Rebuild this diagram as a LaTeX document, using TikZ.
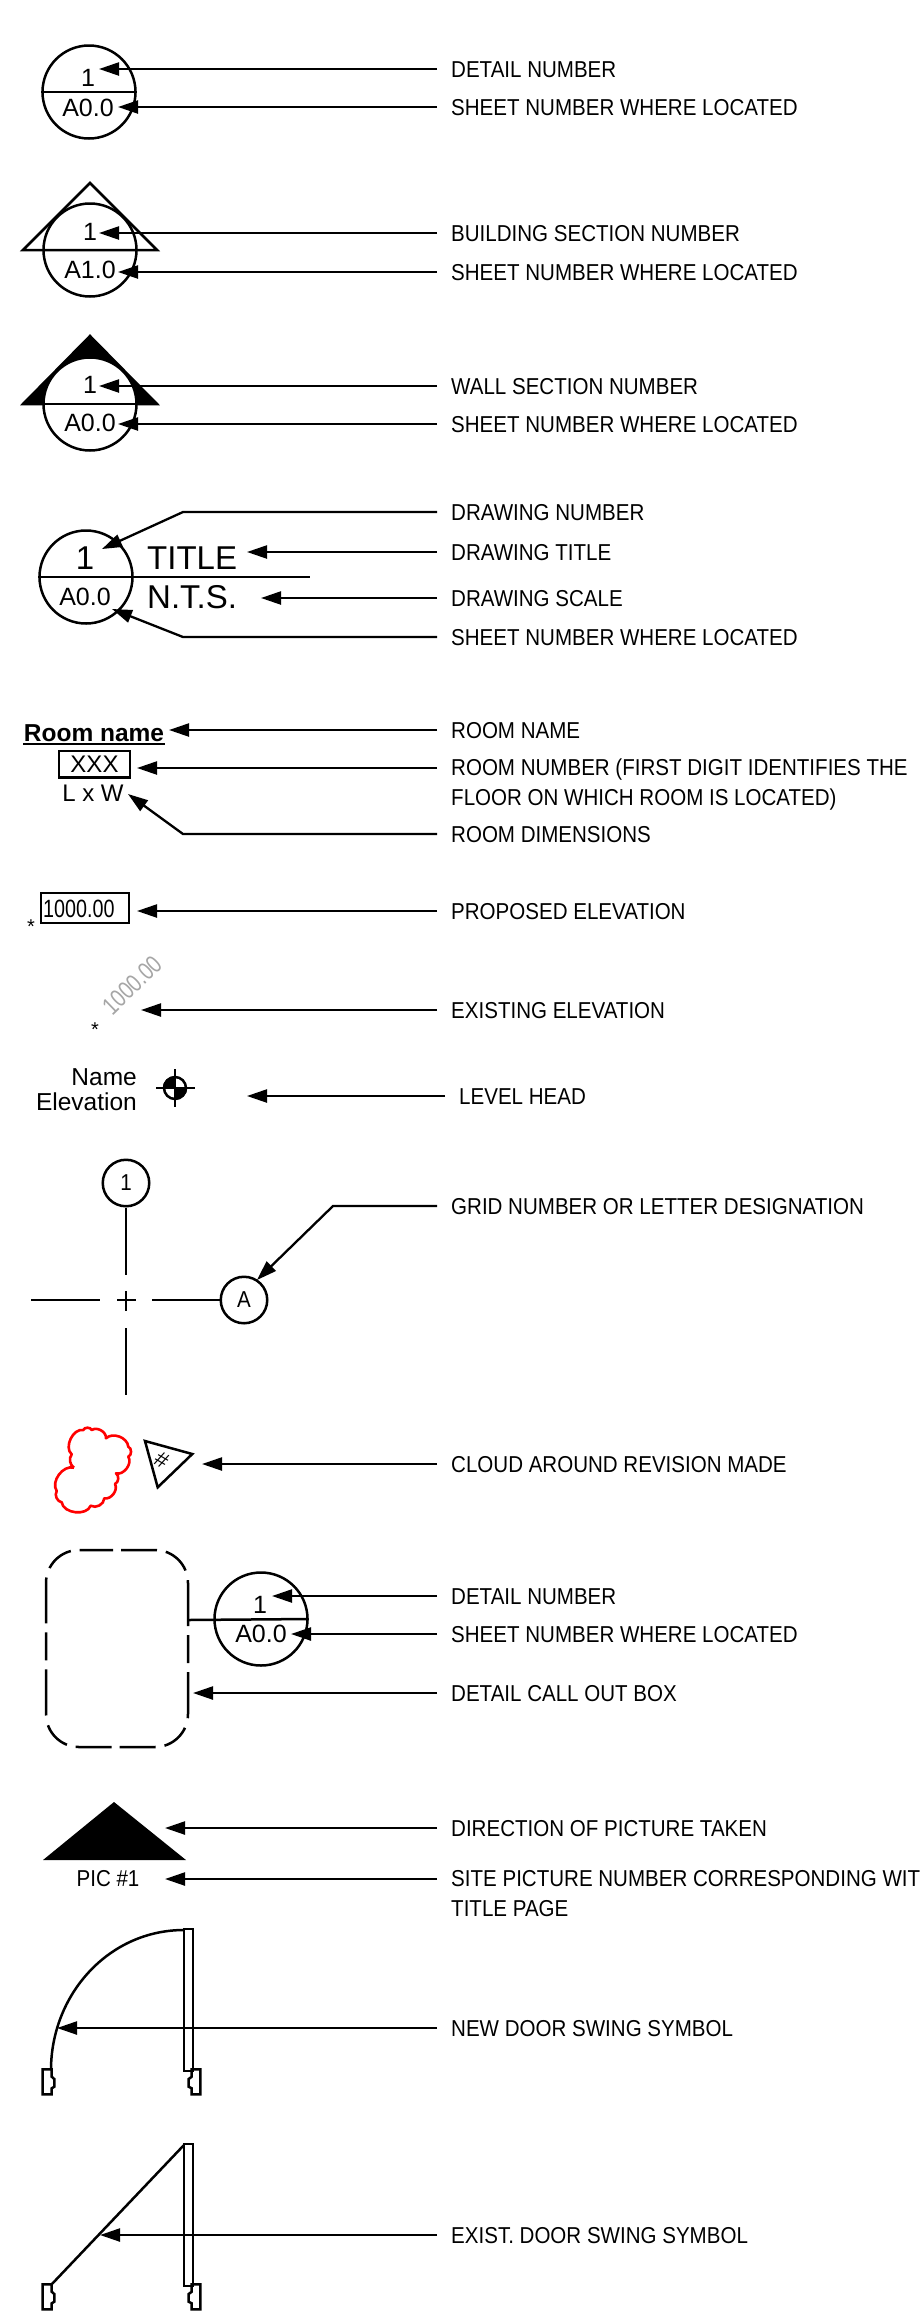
\documentclass[tikz,border=0pt]{standalone}
\usepackage{fontspec}
\setmainfont{Liberation Sans}
\newfontfamily\lblfont[FakeStretch=0.893]{Liberation Sans}
\newfontfamily\elevfont[FakeStretch=0.79]{Liberation Sans}
\usetikzlibrary{arrows.meta}
\tikzset{
  lbl_n/.style = {anchor=west, inner xsep=14pt, inner ysep=0pt, text height=16.5pt,
    text depth=0pt, font=\lblfont\fontsize{23}{30}\selectfont},
  lbltwo_n/.style = {anchor=north west, inner xsep=14pt, inner ysep=0pt, align=left,
    font=\lblfont\fontsize{23}{30}\selectfont},
  sym_t/.style = {inner sep=0pt, font=\fontsize{25}{25}\selectfont},
  big_t/.style = {inner sep=0pt, font=\fontsize{33}{33}\selectfont},
  narrow_t/.style = {inner sep=0pt, font=\lblfont\fontsize{23}{23}\selectfont},
  star_t/.style = {anchor=north, inner sep=0pt, font=\fontsize{20}{20}\selectfont},
  circ_n/.style = {circle, draw=black, line width=2.5pt, inner sep=0pt, minimum size=93pt},
  grid_n/.style = {circle, draw=black, line width=2.5pt, inner sep=0pt, minimum size=46.5pt,
    narrow_t},
  leader/.style = {->, line width=2.3pt},
  sym_l/.style = {line width=2.5pt, line join=miter}}

\begin{document}
\begin{tikzpicture}[x=1pt,y=-1pt,>={Triangle[length=20pt,width=13pt]}]
\useasboundingbox (0,0) rectangle (920,2319);

% detail
\node [circ_n] (c_det) at (89,92) {};
\draw [sym_l] (c_det.west) -- (c_det.east);
\node [sym_t] (n_det) at (88,78) {1};
\node [sym_t] (s_det) at (88,108) {A0.0};
\node [lbl_n] (l_det) at (437,69) {DETAIL NUMBER};
\node [lbl_n] (l_dets) at (437,107) {SHEET NUMBER WHERE LOCATED};
\coordinate (t_det) at (99,69);
\coordinate (t_dets) at (118,107);
\draw [leader] (l_det.west) -- (t_det);
\draw [leader] (l_dets.west) -- (t_dets);

% building section
\draw [sym_l] (90,183) -- (157,250) -- (23,250) -- cycle;
\node [circ_n] (c_bld) at (90,250) {};
\node [sym_t] (n_bld) at (90,232) {1};
\node [sym_t] (s_bld) at (90,270) {A1.0};
\node [lbl_n] (l_bld) at (437,233) {BUILDING SECTION NUMBER};
\node [lbl_n] (l_blds) at (437,272) {SHEET NUMBER WHERE LOCATED};
\coordinate (t_bld) at (99,233);
\coordinate (t_blds) at (118,272);
\draw [leader] (l_bld.west) -- (t_bld);
\draw [leader] (l_blds.west) -- (t_blds);

% wall section
\draw [sym_l, fill=black] (90,336) -- (157,404) -- (23,404) -- cycle;
\node [circ_n, fill=white] (c_wall) at (90,404) {};
\draw [sym_l] (c_wall.west) -- (c_wall.east);
\node [sym_t] (n_wall) at (90,385) {1};
\node [sym_t] (s_wall) at (90,423) {A0.0};
\node [lbl_n] (l_wall) at (437,386) {WALL SECTION NUMBER};
\node [lbl_n] (l_walls) at (437,424) {SHEET NUMBER WHERE LOCATED};
\coordinate (t_wall) at (99,386);
\coordinate (t_walls) at (118,424);
\draw [leader] (l_wall.west) -- (t_wall);
\draw [leader] (l_walls.west) -- (t_walls);

% drawing title
\node [circ_n] (c_dwg) at (86,577) {};
\coordinate (e_dwg) at (310,577);
\draw [sym_l] (c_dwg.west) -- (e_dwg);
\node [big_t] (n_dwg) at (85,558) {1};
\node [sym_t] (s_dwg) at (85,597) {A0.0};
\node [big_t, anchor=west] (title) at (147,558) {TITLE};
\node [big_t, anchor=west] (scale) at (147,597) {N.T.S.};
\node [lbl_n] (l_dnum) at (437,512) {DRAWING NUMBER};
\node [lbl_n] (l_dtit) at (437,552) {DRAWING TITLE};
\node [lbl_n] (l_dsca) at (437,598) {DRAWING SCALE};
\node [lbl_n] (l_dshe) at (437,637) {SHEET NUMBER WHERE LOCATED};
\coordinate (b_dnum) at (183,512);
\coordinate (t_dnum) at (102,549);
\coordinate (t_dtit) at (247,552);
\coordinate (t_dsca) at (261,598);
\coordinate (b_dshe) at (183,637);
\coordinate (t_dshe) at (112,609);
\draw [leader] (l_dnum.west) -- (b_dnum) -- (t_dnum);
\draw [leader] (l_dtit.west) -- (t_dtit);
\draw [leader] (l_dsca.west) -- (t_dsca);
\draw [leader] (l_dshe.west) -- (b_dshe) -- (t_dshe);

% room
\node [sym_t, font=\bfseries\fontsize{24.5}{25}\selectfont] (room) at (94,733) {Room name};
\coordinate (u_a) at (23,744);
\coordinate (u_b) at (165,744);
\draw [sym_l] (u_a) -- (u_b);
\node [sym_t, draw=black, line width=2.5pt, font=\fontsize{24}{24}\selectfont,
  minimum width=71pt, minimum height=26.5pt] (xxx) at (94.5,764) {XXX};
\node [sym_t, font=\fontsize{24}{24}\selectfont] (dims) at (93,793) {L x W};
\node [lbl_n] (l_rnam) at (437,730) {ROOM NAME};
\node [lbltwo_n] (l_rnum) at (437,759) {ROOM NUMBER (FIRST DIGIT IDENTIFIES THE\\FLOOR ON WHICH ROOM IS LOCATED)};
\node [lbl_n] (l_rdim) at (437,834) {ROOM DIMENSIONS};
\coordinate (t_rnam) at (169,730);
\coordinate (t_rnum) at (137,768);
\coordinate (b_rdim) at (183,834);
\coordinate (t_rdim) at (128,794);
\draw [leader] (l_rnam.west) -- (t_rnam);
\draw [leader] ([yshift=-9pt]l_rnum.north west) -- (t_rnum);
\draw [leader] (l_rdim.west) -- (b_rdim) -- (t_rdim);

% elevations
\node [draw=black, line width=2.5pt, inner sep=0pt, minimum width=88pt, minimum height=30pt] (b_prop) at (85,908) {};
\node [sym_t, font=\elevfont\fontsize{25}{25}\selectfont, anchor=west] (v_prop) at (43,909) {1000.00};
\node [star_t] (a_prop) at (31,920) {*};
\node [lbl_n] (l_prop) at (437,911) {PROPOSED ELEVATION};
\coordinate (t_prop) at (137,911);
\draw [leader] (l_prop.west) -- (t_prop);
\node [sym_t, font=\elevfont\fontsize{25}{25}\selectfont, text=black!35, rotate=44] (v_exis) at (132,985) {1000.00};
\node [star_t] (a_exis) at (95,1023) {*};
\node [lbl_n] (l_exis) at (437,1010) {EXISTING ELEVATION};
\coordinate (t_exis) at (141,1010);
\draw [leader] (l_exis.west) -- (t_exis);

% level head
\node [sym_t, font=\fontsize{24.5}{25}\selectfont, align=right, anchor=east] (lev_t) at (137,1090) {Name\\Elevation};
\node [circle, draw=black, line width=2.5pt, inner sep=0pt, minimum size=22pt] (lev_c) at (175,1088) {};
\fill (lev_c.center) -- (lev_c.west) arc[start angle=180, end angle=90, radius=11pt] -- cycle;
\fill (lev_c.center) -- (lev_c.east) arc[start angle=0, end angle=-90, radius=11pt] -- cycle;
\draw [sym_l] (156,1088) -- (195,1088);
\draw [sym_l] (175,1069) -- (175,1107);
\node [lbl_n] (l_lev) at (445,1096) {LEVEL HEAD};
\coordinate (t_lev) at (247,1096);
\draw [leader] (l_lev.west) -- (t_lev);

% grid
\node [grid_n] (g_num) at (126,1183) {1};
\node [grid_n] (g_let) at (244,1300) {A};
\coordinate (g_a) at (126,1275);
\draw [sym_l] (g_num.south) -- (g_a);
\draw [sym_l] (117,1300) -- (136,1300);
\draw [sym_l] (126,1291) -- (126,1311);
\draw [sym_l] (126,1328) -- (126,1395);
\draw [sym_l] (31,1300) -- (100,1300);
\draw [sym_l] (152,1300) -- (g_let.west);
\node [lbl_n] (l_grid) at (437,1206) {GRID NUMBER OR LETTER DESIGNATION};
\coordinate (b_grid) at (333,1206);
\coordinate (t_grid) at (257,1280);
\draw [leader] (l_grid.west) -- (b_grid) -- (t_grid);

% revision cloud
\draw [line width=2.6pt, red, line join=round] (74,1467.7)
  to[bend left=45] (71.7,1454.3)
  to[bend left=75] (83.3,1430)
  to[bend left=70] (91.7,1430)
  to[bend left=65] (106,1438.3)
  to[bend left=65] (128.3,1446.7)
  to[bend left=70] (128.3,1456.7)
  to[bend left=70] (116,1473.3)
  to[bend left=60] (115,1484)
  to[bend left=65] (104.3,1498.3)
  to[bend left=60] (90.7,1505.7)
  to[bend left=75] (61.7,1502.3)
  to[bend left=55] (56.7,1491)
  to[bend left=70] (74,1467.7);
\draw [sym_l] (145,1441) -- (192.3,1454) -- (157.7,1487.3) -- cycle;
\node [inner sep=0pt, rotate=-30, font=\fontsize{22}{22}\selectfont] (rev) at (161.7,1460) {\#};
\node [lbl_n] (l_rev) at (437,1464) {CLOUD AROUND REVISION MADE};
\coordinate (t_rev) at (202,1464);
\draw [leader] (l_rev.west) -- (t_rev);

% detail call out
\draw [line width=2.5pt, rounded corners=33pt, dash pattern=on 36pt off 9pt on 28pt off 10pt on 46pt off 9pt on 28pt off 9pt on 46pt off 10pt on 28pt off 9pt on 36pt off 8pt]
  (121,1550) -- (188,1550) -- (188,1747) -- (46,1747) -- (46,1550) -- (113,1550);
\node [circ_n] (c_call) at (261,1619) {};
\coordinate (e_call) at (188,1620);
\draw [sym_l] (e_call) -- (c_call.east);
\node [sym_t] (n_call) at (260,1605) {1};
\node [sym_t] (s_call) at (261,1634) {A0.0};
\node [lbl_n] (l_cdet) at (437,1596) {DETAIL NUMBER};
\node [lbl_n] (l_cshe) at (437,1634) {SHEET NUMBER WHERE LOCATED};
\node [lbl_n] (l_cbox) at (437,1693) {DETAIL CALL OUT BOX};
\coordinate (t_cdet) at (272,1596);
\coordinate (t_cshe) at (291,1634);
\coordinate (t_cbox) at (193,1693);
\draw [leader] (l_cdet.west) -- (t_cdet);
\draw [leader] (l_cshe.west) -- (t_cshe);
\draw [leader] (l_cbox.west) -- (t_cbox);

% site picture
\fill (114,1802) -- (186,1860) -- (43,1860) -- cycle;
\node [narrow_t] (pic) at (108,1879) {PIC \#1};
\node [lbl_n] (l_pdir) at (437,1828) {DIRECTION OF PICTURE TAKEN};
\node [lbltwo_n] (l_pnum) at (437,1870) {SITE PICTURE NUMBER CORRESPONDING WIT\\TITLE PAGE};
\coordinate (t_pdir) at (165,1828);
\coordinate (t_pnum) at (165,1879);
\draw [leader] (l_pdir.west) -- (t_pdir);
\draw [leader] ([yshift=-9pt]l_pnum.north west) -- (t_pnum);

% new door
\draw [sym_l] (184,1929) rectangle (193,2071);
\draw [sym_l] (184,1930) to[out=180, in=90] (51,2070);
\draw [sym_l] (42.7,2069.3) -- (51.7,2069.3) -- (51.7,2076.7) -- (54.3,2079) -- (54.3,2086.7) -- (51.7,2088.3) -- (51.7,2094.3) -- (42.7,2094.3) -- cycle;
\draw [sym_l] (200.3,2069.3) -- (191.7,2069.3) -- (191.7,2076.7) -- (188.7,2079) -- (188.7,2086.7) -- (191.7,2088.3) -- (191.7,2094.3) -- (200.3,2094.3) -- cycle;
\node [lbl_n] (l_new) at (437,2028) {NEW DOOR SWING SYMBOL};
\coordinate (t_new) at (57,2028);
\draw [leader] (l_new.west) -- (t_new);

% existing door
\draw [sym_l] (184,2144) rectangle (193,2286);
\draw [sym_l] (184,2145) -- (51,2285);
\draw [sym_l, yshift=-215pt] (42.7,2069.3) -- (51.7,2069.3) -- (51.7,2076.7) -- (54.3,2079) -- (54.3,2086.7) -- (51.7,2088.3) -- (51.7,2094.3) -- (42.7,2094.3) -- cycle;
\draw [sym_l, yshift=-215pt] (200.3,2069.3) -- (191.7,2069.3) -- (191.7,2076.7) -- (188.7,2079) -- (188.7,2086.7) -- (191.7,2088.3) -- (191.7,2094.3) -- (200.3,2094.3) -- cycle;
\node [lbl_n] (l_exd) at (437,2235) {EXIST. DOOR SWING SYMBOL};
\coordinate (t_exd) at (100,2235);
\draw [leader] (l_exd.west) -- (t_exd);
\end{tikzpicture}
\end{document}
